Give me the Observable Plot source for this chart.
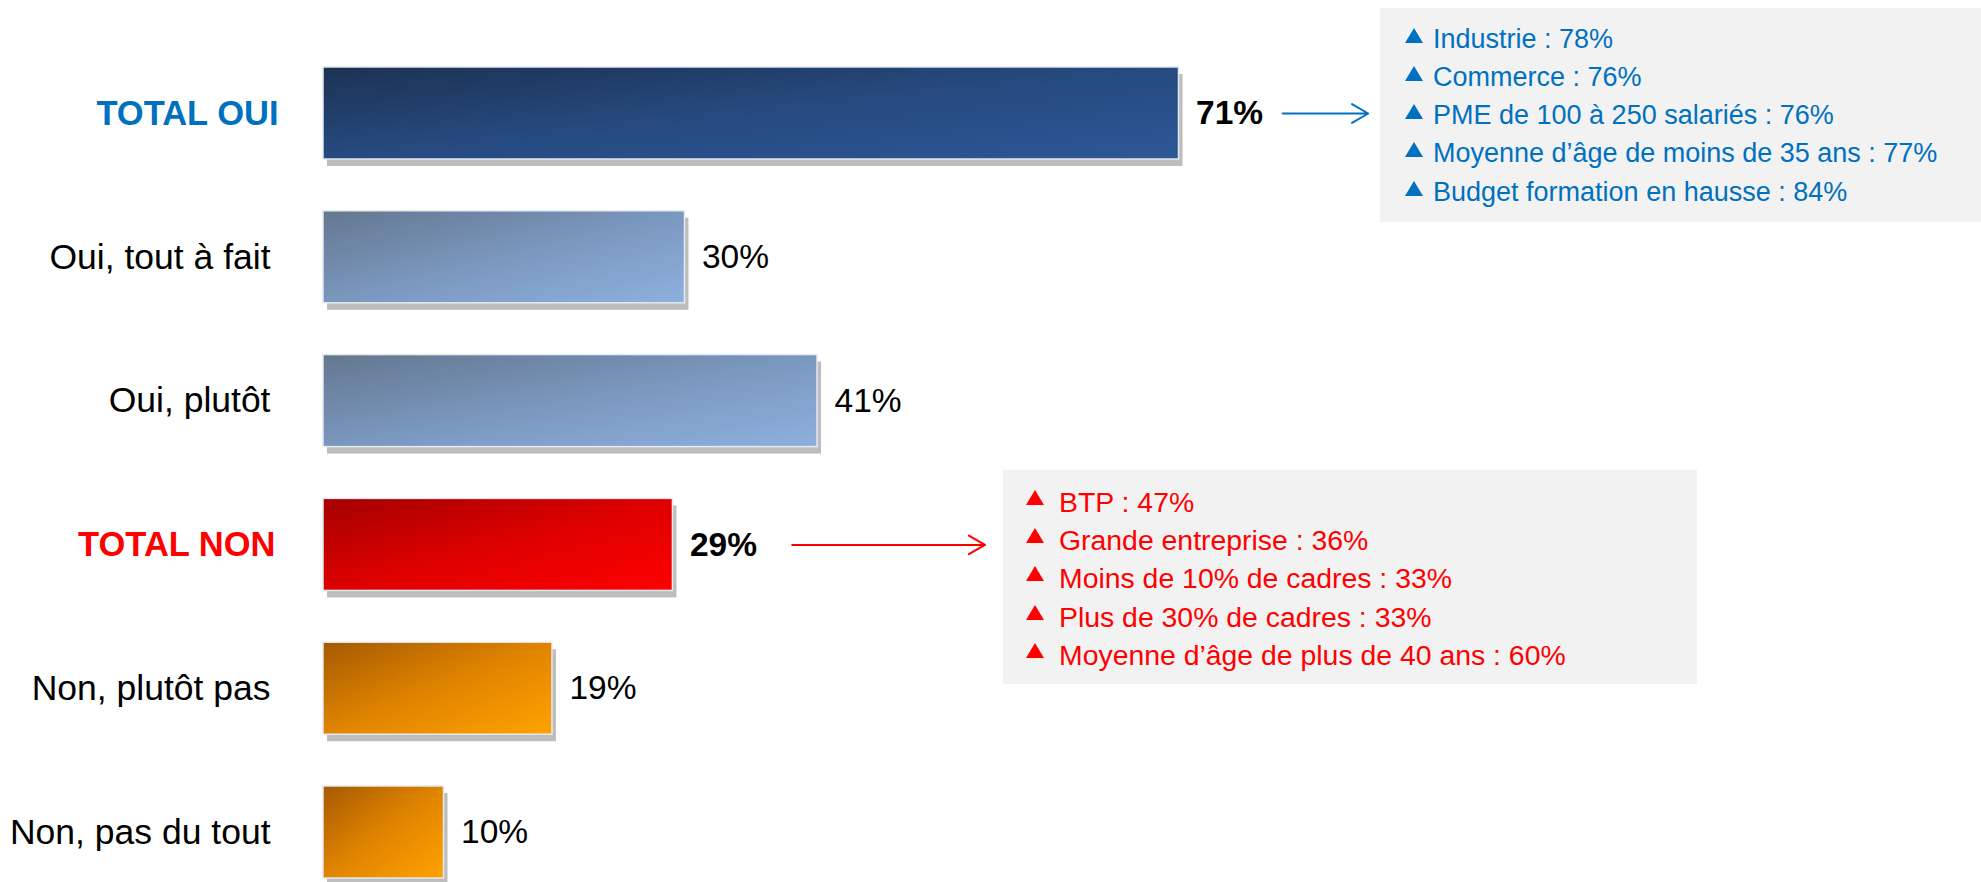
<!DOCTYPE html>
<html><head><meta charset="utf-8">
<script src="https://cdn.jsdelivr.net/npm/d3@7"></script>
<script src="https://cdn.jsdelivr.net/npm/@observablehq/plot@0.6"></script>
<style>
html,body{margin:0;padding:0;background:#fff;overflow:hidden;}
#wrap{position:relative;width:1981px;height:882px;font-family:"Liberation Sans",Arial,sans-serif;}
#wrap svg{position:absolute;left:0;top:0;}
.note{position:absolute;background:#f2f2f2;box-sizing:border-box;}
.note .line{position:relative;white-space:nowrap;height:38.3px;line-height:38.3px;}
.note .tri{position:absolute;width:0;height:0;border-left:9px solid transparent;border-right:9px solid transparent;}
</style></head><body><div id="wrap"></div>
<script>
// ---- data ----
const categories = ["TOTAL OUI", "Oui, tout à fait", "Oui, plutôt", "TOTAL NON", "Non, plutôt pas", "Non, pas du tout"];
const values = [71, 30, 41, 29, 19, 10];
const kinds = ["totalOui", "oui", "oui", "totalNon", "non", "non"];
const notesOui = ["Industrie : 78%", "Commerce : 76%", "PME de 100 à 250 salariés : 76%", "Moyenne d’âge de moins de 35 ans : 77%", "Budget formation en hausse : 84%"];
const notesNon = ["BTP : 47%", "Grande entreprise : 36%", "Moins de 10% de cadres : 33%", "Plus de 30% de cadres : 33%", "Moyenne d’âge de plus de 40 ans : 60%"];
const arrowsOui = [{y: "TOTAL OUI", x1: 79.6, x2: 86.7}];
const arrowsNon = [{y: "TOTAL NON", x1: 38.9, x2: 54.9}];

const rows = categories.map((c, i) => ({label: c, value: values[i], kind: kinds[i]}));
const FONT = '"Liberation Sans", Arial, sans-serif';

const gradients = {
  totalOui: ["#1c3253", "#264a80", "#2d5797"],
  oui: ["#64778f", "#7a97be", "#8eb0de"],
  totalNon: ["#a30000", "#dd0000", "#ff0000"],
  non: ["#a55a00", "#e08400", "#ffa200"]
};

const plot = Plot.plot({
  width: 1981,
  height: 882,
  marginTop: 0, marginBottom: 0, marginRight: 0, marginLeft: 323,
  x: {domain: [0, 137.6], axis: null},
  y: {domain: categories, range: [41.1, 903.9], paddingInner: 0.36, paddingOuter: 0.18, round: false, axis: null},
  style: {fontFamily: FONT, background: "transparent", overflow: "visible"},
  marks: [
    Plot.barX(rows, {x: "value", y: "label", fill: "#bdbdbd", dx: 4, dy: 7, ariaLabel: "shadow"}),
    ...Object.keys(gradients).map(k =>
      Plot.barX(rows.filter(d => d.kind === k), {x: "value", y: "label", fill: `url(#g-${k})`, stroke: "#e4eaf1", strokeWidth: 1.5})
    ),
    Plot.text(rows.filter(d => d.kind === "totalOui"), {x: 0, y: "label", text: "label", textAnchor: "end", dx: -45, fill: "#0070c0", fontWeight: "bold", fontSize: 34.5}),
    Plot.text(rows.filter(d => d.kind === "totalNon"), {x: 0, y: "label", text: "label", textAnchor: "end", dx: -48, fill: "#ff0000", fontWeight: "bold", fontSize: 34.5}),
    Plot.text(rows.filter(d => !d.kind.startsWith("total")), {x: 0, y: "label", text: "label", textAnchor: "end", dx: -53, fill: "#000", fontSize: 35.5}),
    Plot.text(rows.filter(d => d.kind.startsWith("total")), {x: "value", y: "label", text: d => d.value + "%", textAnchor: "start", dx: 17, fill: "#000", fontWeight: "bold", fontSize: 33.5}),
    Plot.text(rows.filter(d => !d.kind.startsWith("total")), {x: "value", y: "label", text: d => d.value + "%", textAnchor: "start", dx: 17, fill: "#000", fontSize: 33.5}),
    Plot.arrow(arrowsOui, {x1: "x1", x2: "x2", y1: "y", y2: "y", stroke: "#0070c0", strokeWidth: 2, headLength: 14, headAngle: 60}),
    Plot.arrow(arrowsNon, {x1: "x1", x2: "x2", y1: "y", y2: "y", stroke: "#ff0000", strokeWidth: 2, headLength: 14, headAngle: 60})
  ]
});

// gradient + shadow defs
const svg = d3.select(plot);
const defs = svg.insert("defs", ":first-child");
for (const [k, stops] of Object.entries(gradients)) {
  const g = defs.append("linearGradient").attr("id", "g-" + k)
    .attr("x1", 0).attr("y1", 0).attr("x2", 1).attr("y2", 1);
  stops.forEach((c, i) => g.append("stop").attr("offset", i / (stops.length - 1)).attr("stop-color", c));
}
defs.append("filter").attr("id", "blur").attr("x", "-10%").attr("y", "-20%").attr("width", "120%").attr("height", "140%")
  .append("feGaussianBlur").attr("stdDeviation", 1.8);
svg.select('g[aria-label="shadow"]').attr("filter", "url(#blur)");

const wrap = document.getElementById("wrap");
wrap.appendChild(plot);

// callout boxes
function note(lines, color, box) {
  const div = document.createElement("div");
  div.className = "note";
  Object.assign(div.style, {left: box.left + "px", top: box.top + "px", width: box.width + "px", height: box.height + "px", paddingTop: box.pad + "px", color, fontSize: box.fs + "px"});
  for (const t of lines) {
    const line = document.createElement("div");
    line.className = "line";
    line.style.paddingLeft = box.text + "px";
    const tri = document.createElement("span");
    tri.className = "tri";
    Object.assign(tri.style, {left: box.tri + "px", top: box.triTop + "px", borderBottom: "15px solid " + color});
    line.appendChild(tri);
    line.appendChild(document.createTextNode(t));
    div.appendChild(line);
  }
  wrap.appendChild(div);
}
note(notesOui, "#0070c0", {left: 1380, top: 8, width: 601, height: 214, pad: 11.5, fs: 27, text: 53, tri: 25, triTop: 8});
note(notesNon, "#ff0000", {left: 1003, top: 470, width: 694, height: 214, pad: 12.8, fs: 28.4, text: 56, tri: 23, triTop: 7});
</script></body></html>
